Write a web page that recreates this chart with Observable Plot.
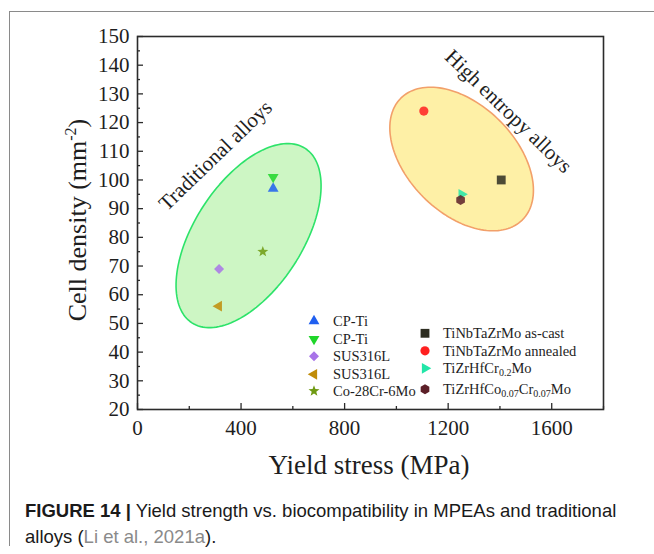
<!DOCTYPE html>
<html><head><meta charset="utf-8">
<script src="https://cdn.jsdelivr.net/npm/d3@7"></script>
<script src="https://cdn.jsdelivr.net/npm/@observablehq/plot@0.6"></script>
<style>
body{margin:0;background:#fff;}
#wrap{position:relative;width:654px;height:554px;overflow:hidden;background:#fff;}
#chart{position:absolute;left:0;top:0;}
#border{position:absolute;left:9px;top:11px;width:700px;height:534px;border-left:1.5px solid #8a8a8a;border-top:1.5px solid #8a8a8a;}
#caption{position:absolute;left:25px;top:498px;font-family:"Liberation Sans",Arial,sans-serif;font-size:18.5px;line-height:26px;color:#1a1a1a;white-space:nowrap;}
#caption b{font-weight:bold;}
</style></head><body>
<div id="wrap"><div id="chart"></div><div id="border"></div>
<div id="caption"><b>FIGURE 14 |</b> Yield strength vs. biocompatibility in MPEAs and traditional<br>alloys (<span style="color:#8a8a8a">Li et al., 2021a</span>).</div></div>
<script>
// ---- data ----
const alloys = ["CP-Ti","CP-Ti","SUS316L","SUS316L","Co-28Cr-6Mo","TiNbTaZrMo as-cast","TiNbTaZrMo annealed","TiZrHfCr0.2Mo","TiZrHfCo0.07Cr0.07Mo"];
const legendLabels = ["CP-Ti","CP-Ti","SUS316L","SUS316L","Co-28Cr-6Mo","TiNbTaZrMo as-cast","TiNbTaZrMo annealed","TiZrHfCr_{0.2}Mo","TiZrHfCo_{0.07}Cr_{0.07}Mo"];
const yieldStress = [524, 524, 315, 314, 484, 1405, 1106, 1252, 1248];
const cellDensity = [97, 101, 69, 56, 75, 100, 124, 95, 93];
const xTicks = [0, 400, 800, 1200, 1600];
const xMinor = [200, 600, 1000, 1400, 1800];
const yTicks = [20, 30, 40, 50, 60, 70, 80, 90, 100, 110, 120, 130, 140, 150];
const yMinor = [25, 35, 45, 55, 65, 75, 85, 95, 105, 115, 125, 135, 145];
const groups = ["Traditional alloys", "High entropy alloys"];
const groupCenterX = [429, 1252];
const groupCenterY = [80.6, 107.3];
const groupLabelX = [301, 1433];
const groupLabelY = [108.5, 123.9];

// ---- styles ----
const symbolNames = ["tri-up","tri-down","diamond","tri-left","star","square","circle","tri-right","hexagon"];
const colors = ["#1f5ff0","#1fd62a","#a874e8","#c08c08","#6f9a12","#2e2e22","#ff2020","#22e6a8","#5c1f28"];
const ellipseStyle = [
  {a:104, b:54, angle:57, fill:"#cdf6c4", stroke:"#2de36a"},
  {a:86, b:54, angle:-45, fill:"#fef0a6", stroke:"#f2a06a"}
];
const labelAngle = [-44, 44];

const W = 654, H = 490, mL = 137, mR = 51, mT = 36, mB = 81;
const innerW = W - mL - mR, innerH = H - mT - mB;
const kx = innerW / 1800, ky = innerH / 130;

function poly(pts){return {draw(ctx,size){const r=Math.sqrt(size/Math.PI);pts.forEach(([x,y],i)=>i?ctx.lineTo(x*r,y*r):ctx.moveTo(x*r,y*r));ctx.closePath();}};}
function ngon(n, R, start){const p=[];for(let i=0;i<n;i++){const a=(start+i*360/n)*Math.PI/180;p.push([R*Math.cos(a),R*Math.sin(a)]);}return p;}
function starPts(R, r){const p=[];for(let i=0;i<10;i++){const a=(-90+i*36)*Math.PI/180;const rr=i%2?r:R;p.push([rr*Math.cos(a),rr*Math.sin(a)]);}return p;}
const symbols = {
  "tri-up": poly(ngon(3,1.25,-90)),
  "tri-down": poly(ngon(3,1.25,90)),
  "tri-left": poly(ngon(3,1.25,180)),
  "tri-right": poly(ngon(3,1.25,0)),
  "diamond": poly(ngon(4,1.0,-90)),
  "square": poly(ngon(4,1.25,45)),
  "hexagon": poly(ngon(6,1.0,-90)),
  "star": poly(starPts(1.15,0.48)),
  "circle": {draw(ctx,size){const r=Math.sqrt(size/Math.PI)*0.92;ctx.moveTo(r,0);ctx.arc(0,0,r,0,2*Math.PI);}}
};

function ellipsePts(cx, cy, a, b, deg){
  const th = deg*Math.PI/180, pts=[];
  for(let i=0;i<144;i++){const t=i/144*2*Math.PI;const u=a*Math.cos(t),v=b*Math.sin(t);
    const px=u*Math.cos(th)-v*Math.sin(th), py=u*Math.sin(th)+v*Math.cos(th);
    pts.push({x:cx+px/kx, y:cy+py/ky});}
  return pts;
}

const marks = [];
groups.forEach((g,i)=>{
  const s = ellipseStyle[i];
  marks.push(Plot.line(ellipsePts(groupCenterX[i], groupCenterY[i], s.a, s.b, s.angle), {x:"x", y:"y", curve:"linear-closed", fill:s.fill, stroke:s.stroke, strokeWidth:1.6}));
});
alloys.forEach((a,i)=>{
  marks.push(Plot.dot([i], {x:j=>yieldStress[j], y:j=>cellDensity[j], symbol:symbols[symbolNames[i]], r:5, fill:colors[i], fillOpacity:0.85, stroke:"none"}));
});
groups.forEach((g,i)=>{
  marks.push(Plot.text([g], {x:()=>groupLabelX[i], y:()=>groupLabelY[i], text:d=>d, rotate:labelAngle[i], fontSize:21, fill:"#1e1e1e", lineAnchor:"middle", textAnchor:"middle"}));
});
marks.push(
  Plot.frame({stroke:"#2b2b2b", strokeWidth:1.6}),
  Plot.tickY(yTicks, {y:d=>d, insetRight: innerW-6, stroke:"#2b2b2b", strokeWidth:1.3}),
  Plot.tickY(yMinor, {y:d=>d, insetRight: innerW-3, stroke:"#2b2b2b", strokeWidth:1.3}),
  Plot.tickX(xTicks, {x:d=>d, insetTop: innerH-6, stroke:"#2b2b2b", strokeWidth:1.3}),
  Plot.tickX(xMinor, {x:d=>d, insetTop: innerH-3, stroke:"#2b2b2b", strokeWidth:1.3}),
  Plot.axisY({ticks:yTicks, tickSize:0, tickPadding:8, fontSize:21, tickFormat:d=>String(d), label:null}),
  Plot.axisX({ticks:xTicks, tickSize:0, tickPadding:11, fontSize:21, tickFormat:d=>String(d), label:null})
);

const svg = Plot.plot({
  width:W, height:H, marginLeft:mL, marginRight:mR, marginTop:mT, marginBottom:mB,
  x:{domain:[0,1800]}, y:{domain:[20,150]},
  style:{fontFamily:"'Liberation Serif','Times New Roman',serif", color:"#1e1e1e", background:"transparent"},
  marks
});
document.getElementById("chart").appendChild(svg);

const S = d3.select(svg);
const serif = "'Liberation Serif','Times New Roman',serif";
// axis titles
S.append("text").attr("x",369).attr("y",474).attr("text-anchor","middle").attr("font-family",serif).attr("font-size",27).attr("fill","#1e1e1e").text("Yield stress (MPa)");
const yt = S.append("text").attr("transform","translate(86,220) rotate(-90)").attr("text-anchor","middle").attr("font-family",serif).attr("font-size",26).attr("fill","#1e1e1e");
yt.append("tspan").text("Cell density (mm");
yt.append("tspan").attr("font-size",16).attr("dy",-10).text("-2");
yt.append("tspan").attr("dy",10).text(")");

// legend
const legendCols = [{mx:314, tx:333, y0:321, rows:[0,18,35.3,53.3,70], items:[0,1,2,3,4]},
                    {mx:425, tx:443, y0:333.3, rows:[0,17.5,35,56], items:[5,6,7,8]}];
const lg = S.append("g").attr("font-family",serif).attr("font-size",14.5).attr("fill","#1e1e1e").attr("text-anchor","start");
legendCols.forEach(col=>{
  col.items.forEach((idx,k)=>{
    const y = col.y0 + col.rows[k];
    lg.append("path").attr("transform",`translate(${col.mx},${y})`).attr("d", d3.symbol(symbols[symbolNames[idx]], Math.PI*25)()).attr("fill",colors[idx]);
    const t = lg.append("text").attr("x",col.tx).attr("y",y+5).attr("text-anchor","start");
    const parts = legendLabels[idx].split(/_\{([^}]*)\}/);
    parts.forEach((p,j)=>{
      if(!p) return;
      if(j%2===1){ t.append("tspan").attr("font-size",10).attr("dy",3).text(p); }
      else { const ts=t.append("tspan").text(p); if(j>0) ts.attr("dy",-3); }
    });
  });
});
</script>
</body></html>
